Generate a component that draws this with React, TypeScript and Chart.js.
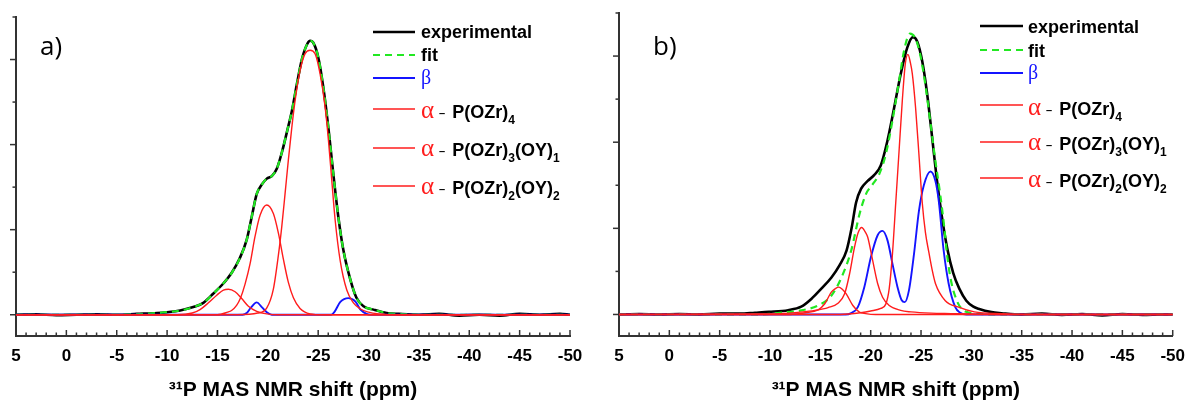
import React, { useEffect, useRef } from "react";
import { Chart, registerables } from "chart.js";

Chart.register(...registerables);

// ---------------- Panel a) data (ppm, intensity) ----------------
const aExpPpm = [5, 3, 1, -1, -3, -5, -7, -9, -10, -11.3, -12.6, -13.6, -14.6, -15.6, -16.4, -17.2, -17.9, -18.4, -18.9, -19.4, -19.9, -20.4, -20.9, -21.4, -21.9, -22.4, -22.9, -23.4, -23.9, -24.2, -24.5, -25.0, -25.5, -26.0, -26.5, -27.0, -27.5, -28.2, -28.8, -29.5, -30.5, -31.8, -33, -35, -37, -39, -41, -43, -45, -47, -49, -50];
const aExpInt = [0.0, 0.005, -0.005, 0.0, 0.005, 0.0, 0.01, 0.02, 0.03, 0.05, 0.09, 0.14, 0.25, 0.37, 0.49, 0.66, 0.88, 1.15, 1.42, 1.53, 1.6, 1.63, 1.72, 1.91, 2.15, 2.4, 2.72, 3.01, 3.18, 3.22, 3.2, 3.03, 2.68, 2.21, 1.66, 1.15, 0.76, 0.41, 0.2, 0.1, 0.06, 0.02, 0.01, 0.0, 0.01, -0.01, 0.0, -0.01, 0.01, 0.0, 0.01, 0.0];

const aFitPpm = [5, -5, -9, -10, -11.3, -12.6, -13.6, -14.6, -15.6, -16.4, -17.2, -17.9, -18.4, -18.9, -19.4, -19.9, -20.4, -20.9, -21.4, -21.9, -22.4, -22.9, -23.4, -23.9, -24.2, -24.5, -25.0, -25.5, -26.0, -26.5, -27.0, -27.5, -28.2, -28.8, -29.5, -30.5, -31.8, -33, -35, -50];
const aFitInt = [0.0, 0.0, 0.02, 0.03, 0.05, 0.09, 0.14, 0.25, 0.37, 0.49, 0.66, 0.88, 1.15, 1.42, 1.53, 1.6, 1.63, 1.72, 1.91, 2.15, 2.4, 2.72, 3.01, 3.18, 3.22, 3.2, 3.03, 2.68, 2.21, 1.66, 1.15, 0.76, 0.41, 0.2, 0.1, 0.06, 0.02, 0.01, 0.0, 0.0];

const aBetaPpm = [5, -17.5, -17.9, -18.3, -18.9, -19.4, -19.9, -20.4, -26.3, -26.6, -27.2, -28.0, -28.7, -29.2, -29.8, -30.2, -50];
const aBetaInt = [0, 0, 0.02, 0.08, 0.145, 0.09, 0.03, 0, 0, 0.03, 0.15, 0.195, 0.155, 0.06, 0.01, 0, 0];

const aRed1Ppm = [5, -17, -19.0, -19.9, -20.55, -21.05, -21.38, -21.71, -22.04, -22.38, -22.71, -23.2, -23.7, -24.2, -24.69, -25.19, -25.69, -26.02, -26.35, -26.68, -27.18, -27.84, -28.5, -29.16, -30, -31, -33, -50];
const aRed1Int = [0, 0, 0.02, 0.08, 0.3, 0.7, 1.03, 1.42, 1.82, 2.2, 2.52, 2.87, 3.07, 3.11, 3.07, 2.83, 2.44, 2.05, 1.58, 1.12, 0.64, 0.29, 0.14, 0.07, 0.03, 0.01, 0, 0];

const aRed2Ppm = [5, -15, -16.0, -16.4, -16.9, -17.3, -17.74, -18.24, -18.73, -19.23, -19.89, -20.55, -21.05, -21.55, -22.04, -22.54, -23.2, -24.2, -25.5, -50];
const aRed2Int = [0, 0, 0.03, 0.05, 0.11, 0.2, 0.36, 0.6, 0.92, 1.17, 1.29, 1.19, 0.96, 0.65, 0.38, 0.2, 0.074, 0.01, 0, 0];

const aRed3Ppm = [5, -11, -12.5, -13.27, -14.1, -14.93, -15.59, -16.09, -16.75, -17.41, -18.07, -18.9, -19.9, -21, -50];
const aRed3Int = [0, 0, 0.02, 0.06, 0.14, 0.23, 0.29, 0.3, 0.27, 0.19, 0.1, 0.04, 0.01, 0, 0];

// ---------------- Panel b) data ----------------
const bExpPpm = [5, 3, 1, -1, -3, -5, -7, -8.5, -9.9, -11.8, -13.1, -14.1, -15.1, -16.1, -16.9, -17.6, -18.1, -18.55, -19.05, -19.7, -20.36, -21.0, -21.67, -22.33, -22.98, -23.64, -24.2, -24.62, -25.12, -25.61, -26.1, -26.59, -27.08, -27.6, -28.2, -28.8, -29.5, -30.2, -30.7, -32, -33, -35, -37, -39, -41, -43, -45, -47, -49, -50];
const bExpInt = [0.0, 0.005, 0.0, 0.005, 0.0, 0.01, 0.01, 0.02, 0.03, 0.05, 0.09, 0.18, 0.3, 0.43, 0.57, 0.74, 1.0, 1.3, 1.46, 1.55, 1.62, 1.73, 2.02, 2.4, 2.79, 3.1, 3.22, 3.17, 2.94, 2.56, 2.06, 1.55, 1.13, 0.77, 0.48, 0.3, 0.16, 0.09, 0.066, 0.027, 0.015, 0.0, 0.01, -0.005, 0.005, -0.01, 0.005, -0.005, 0.0, 0.0];

const bFitPpm = [5, -9, -11, -13.1, -14.8, -16.1, -17.1, -18.06, -18.9, -19.54, -20.19, -20.85, -21.5, -22.16, -22.82, -23.31, -23.9, -24.46, -24.95, -25.44, -25.94, -26.43, -26.92, -27.3, -27.6, -28.0, -28.56, -29.0, -29.5, -30.5, -32, -50];
const bFitInt = [0, 0, 0.02, 0.047, 0.105, 0.22, 0.43, 0.74, 1.17, 1.4, 1.51, 1.63, 1.86, 2.25, 2.71, 3.06, 3.26, 3.2, 3.0, 2.66, 2.22, 1.78, 1.38, 1.02, 0.68, 0.38, 0.16, 0.07, 0.03, 0.01, 0, 0];

const bBetaPpm = [5, -17.5, -18.06, -18.72, -19.37, -20.03, -20.69, -21.18, -21.67, -22.16, -22.66, -23.08, -23.38, -23.8, -24.3, -24.79, -25.28, -25.94, -26.43, -26.76, -27.25, -27.74, -28.4, -28.9, -29.5, -50];
const bBetaInt = [0, 0, 0.016, 0.085, 0.32, 0.67, 0.92, 0.97, 0.86, 0.59, 0.32, 0.165, 0.143, 0.28, 0.7, 1.2, 1.5, 1.66, 1.55, 1.32, 0.74, 0.36, 0.085, 0.02, 0, 0];

const bRed1Ppm = [5, -17, -19, -20, -21.0, -21.5, -21.84, -22.16, -22.49, -22.82, -23.15, -23.45, -23.7, -23.95, -24.13, -24.46, -24.79, -25.12, -25.44, -25.78, -26.1, -26.43, -27.41, -28.73, -30.3, -33, -36, -50];
const bRed1Int = [0, 0, 0.02, 0.04, 0.07, 0.12, 0.3, 0.7, 1.3, 1.9, 2.5, 2.92, 3.02, 2.92, 2.8, 2.4, 1.86, 1.3, 0.95, 0.72, 0.52, 0.36, 0.16, 0.085, 0.03, 0.01, 0, 0];

const bRed2Ppm = [5, -9, -11, -13.0, -14.45, -15.77, -16.75, -17.41, -17.9, -18.39, -18.75, -19.11, -19.45, -19.7, -20.19, -20.69, -21.18, -21.84, -22.98, -24, -26, -28, -30, -33, -50];
const bRed2Int = [0, 0.005, 0.01, 0.027, 0.047, 0.08, 0.13, 0.24, 0.47, 0.78, 0.95, 1.01, 0.96, 0.9, 0.63, 0.36, 0.2, 0.104, 0.047, 0.03, 0.015, 0.01, 0.005, 0, 0];

const bRed3Ppm = [5, -12, -13.5, -14.78, -15.44, -16.09, -16.5, -16.82, -17.2, -17.57, -18.23, -18.88, -19.5, -20.5, -50];
const bRed3Int = [0, 0, 0.02, 0.054, 0.124, 0.26, 0.3, 0.317, 0.29, 0.24, 0.104, 0.027, 0.01, 0, 0];

// ---------------- Axes / labels ----------------
const xMin = -50;
const xMax = 5;
const xMajorStep = 5;
const xMinorStep = 1;
const yMin = -0.25;
const yMax = 3.5;
const yMinorStep = 0.5;
const axisTitle = "³¹P MAS NMR shift (ppm)";
const panelLabels = ["a)", "b)"];
const legendLabels = ["experimental", "fit", "β", "α – P(OZr)4", "α – P(OZr)3(OY)1", "α – P(OZr)2(OY)2"];

// ---------------- Styles ----------------
const SANS = '"Liberation Sans", Arial, sans-serif';
const SERIF = '"Liberation Serif", "Times New Roman", serif';
const AXIS = "#333333";
const BLACK = "#000000";
const GREEN = "#22e822";
const BLUE = "#1414ff";
const RED = "#ff1c1c";

type Series = { xs: number[]; ys: number[] };
type PanelSpec = {
  label: string;
  width: number;
  left: number;
  padL: number;
  padR: number;
  padT: number;
  letterX: number;
  letterY: number;
  legLineX1: number;
  legLineX2: number;
  legTextX: number;
  legLineY: number[];
  legBaseY: number[];
  series: Series[];
};

const panels: PanelSpec[] = [
  {
    label: panelLabels[0],
    width: 598,
    left: 0,
    padL: 16,
    padR: 28,
    padT: 17,
    letterX: 40,
    letterY: 55,
    legLineX1: 373,
    legLineX2: 415,
    legTextX: 421,
    legLineY: [32, 55, 78, 109, 148, 186],
    legBaseY: [37.5, 61, 83.5, 117.5, 156, 194],
    series: [
      { xs: aExpPpm, ys: aExpInt },
      { xs: aFitPpm, ys: aFitInt },
      { xs: aBetaPpm, ys: aBetaInt },
      { xs: aRed1Ppm, ys: aRed1Int },
      { xs: aRed2Ppm, ys: aRed2Int },
      { xs: aRed3Ppm, ys: aRed3Int },
    ],
  },
  {
    label: panelLabels[1],
    width: 597,
    left: 598,
    padL: 21,
    padR: 17,
    padT: 13,
    letterX: 55,
    letterY: 55,
    legLineX1: 382,
    legLineX2: 425,
    legTextX: 430,
    legLineY: [26, 50, 73, 105, 142, 178],
    legBaseY: [33.3, 56.7, 79, 115, 150, 186.5],
    series: [
      { xs: bExpPpm, ys: bExpInt },
      { xs: bFitPpm, ys: bFitInt },
      { xs: bBetaPpm, ys: bBetaInt },
      { xs: bRed1Ppm, ys: bRed1Int },
      { xs: bRed2Ppm, ys: bRed2Int },
      { xs: bRed3Ppm, ys: bRed3Int },
    ],
  },
];

const seriesStyles = [
  { color: BLACK, width: 2.6, dash: [] as number[], order: 4 },
  { color: GREEN, width: 2.2, dash: [7, 5], order: 3 },
  { color: BLUE, width: 1.9, dash: [] as number[], order: 2 },
  { color: RED, width: 1.4, dash: [] as number[], order: 1 },
  { color: RED, width: 1.4, dash: [] as number[], order: 1 },
  { color: RED, width: 1.4, dash: [] as number[], order: 1 },
];

type Seg = { t: string; font: string; color: string; dy: number; gapBefore: number; gapAfter: number };

function segmentsFor(label: string): Seg[] {
  const segs: Seg[] = [];
  let buf = "";
  const flush = () => {
    if (buf) segs.push({ t: buf, font: `bold 18px ${SANS}`, color: "#000", dy: 0, gapBefore: 0, gapAfter: 0 });
    buf = "";
  };
  let i = 0;
  while (i < label.length) {
    const c = label[i];
    if (c === "α") {
      flush();
      segs.push({ t: "α", font: `25px ${SERIF}`, color: RED, dy: 0, gapBefore: 0, gapAfter: 0 });
      i++;
    } else if (c === "β") {
      flush();
      segs.push({ t: "β", font: `20px ${SERIF}`, color: BLUE, dy: 0, gapBefore: 0, gapAfter: 0 });
      i++;
    } else if (label.startsWith(" – ", i)) {
      flush();
      segs.push({ t: "–", font: `bold 11px ${SANS}`, color: "#000", dy: -1, gapBefore: 5, gapAfter: 7 });
      i += 3;
    } else if (/\d/.test(c) && i > 0 && label[i - 1] === ")") {
      flush();
      segs.push({ t: c, font: `bold 12px ${SANS}`, color: "#000", dy: 6, gapBefore: 0, gapAfter: 0 });
      i++;
    } else {
      buf += c;
      i++;
    }
  }
  flush();
  return segs;
}

function makePlugin(p: PanelSpec) {
  return {
    id: "panelDecor",
    afterDraw(chart: any) {
      const { ctx, chartArea, scales } = chart;
      const xs = scales.x;
      const ys = scales.y;
      ctx.save();
      // inner ticks on x axis
      ctx.strokeStyle = AXIS;
      ctx.lineWidth = 1.5;
      for (let v = xMin; v <= xMax + 1e-9; v += xMinorStep) {
        const px = xs.getPixelForValue(v);
        const len = Math.abs(v % xMajorStep) < 1e-9 ? 6 : 3.5;
        ctx.beginPath();
        ctx.moveTo(px, chartArea.bottom);
        ctx.lineTo(px, chartArea.bottom - len);
        ctx.stroke();
      }
      // outer ticks on y axis
      for (let v = 0; v <= yMax + 1e-9; v += yMinorStep) {
        const py = ys.getPixelForValue(v);
        const len = Math.abs(v - Math.round(v)) < 1e-9 ? 6 : 3.5;
        ctx.beginPath();
        ctx.moveTo(chartArea.left - len, py);
        ctx.lineTo(chartArea.left, py);
        ctx.stroke();
      }
      // panel letter
      ctx.fillStyle = "#000";
      ctx.font = `26px "Open Sans", ${SANS}`;
      ctx.textBaseline = "alphabetic";
      ctx.textAlign = "left";
      ctx.fillText(p.label, p.letterX, p.letterY);
      // legend
      legendLabels.forEach((lab, k) => {
        const st = seriesStyles[k];
        ctx.save();
        ctx.strokeStyle = st.color;
        ctx.lineWidth = st.width;
        ctx.setLineDash(st.dash);
        ctx.beginPath();
        ctx.moveTo(p.legLineX1, p.legLineY[k]);
        ctx.lineTo(p.legLineX2, p.legLineY[k]);
        ctx.stroke();
        ctx.restore();
        let x = p.legTextX;
        const base = p.legBaseY[k];
        for (const s of segmentsFor(lab)) {
          x += s.gapBefore;
          ctx.font = s.font;
          ctx.fillStyle = s.color;
          ctx.fillText(s.t, x, base + s.dy);
          x += ctx.measureText(s.t).width + s.gapAfter;
        }
      });
      ctx.restore();
    },
  };
}

function buildConfig(p: PanelSpec): any {
  const datasets = p.series.map((s, k) => ({
    label: legendLabels[k],
    data: s.xs.map((x, i) => ({ x, y: s.ys[i] })),
    borderColor: seriesStyles[k].color,
    borderWidth: seriesStyles[k].width,
    borderDash: seriesStyles[k].dash,
    order: seriesStyles[k].order,
    pointRadius: 0,
    fill: false,
    cubicInterpolationMode: "monotone",
    borderJoinStyle: "round",
  }));
  return {
    type: "line",
    data: { datasets },
    plugins: [makePlugin(p)],
    options: {
      animation: false,
      responsive: false,
      maintainAspectRatio: false,
      parsing: true,
      layout: { padding: { left: p.padL, right: p.padR, top: p.padT, bottom: 0 } },
      plugins: { legend: { display: false }, tooltip: { enabled: false }, title: { display: false } },
      scales: {
        x: {
          type: "linear",
          reverse: true,
          min: xMin,
          max: xMax,
          ticks: {
            stepSize: xMajorStep,
            autoSkip: false,
            maxRotation: 0,
            padding: 10,
            color: "#000",
            font: { family: SANS, size: 17, weight: "bold" },
          },
          grid: { display: false, drawTicks: false },
          border: { display: true, color: AXIS, width: 2 },
          title: {
            display: true,
            text: axisTitle,
            color: "#000",
            padding: 0,
            font: { family: SANS, size: 21, weight: "bold", lineHeight: 1 },
          },
          afterFit: (s: any) => {
            s.height = 65;
          },
        },
        y: {
          type: "linear",
          min: yMin,
          max: yMax,
          ticks: { display: false },
          grid: { display: false, drawTicks: false },
          border: { display: true, color: AXIS, width: 2 },
          afterFit: (s: any) => {
            s.width = 0;
          },
        },
      },
    },
  };
}

function Panel({ spec }: { spec: PanelSpec }) {
  const ref = useRef<HTMLCanvasElement | null>(null);
  useEffect(() => {
    if (!ref.current) return;
    const chart = new Chart(ref.current, buildConfig(spec));
    return () => chart.destroy();
  }, [spec]);
  return (
    <canvas
      ref={ref}
      width={spec.width}
      height={401}
      style={{ position: "absolute", left: spec.left, top: 0, width: spec.width, height: 401 }}
    />
  );
}

export default function App() {
  return (
    <div style={{ position: "absolute", left: 0, top: 0, width: 1195, height: 401, background: "#fff", overflow: "hidden" }}>
      {panels.map((p) => (
        <Panel key={p.label} spec={p} />
      ))}
    </div>
  );
}
